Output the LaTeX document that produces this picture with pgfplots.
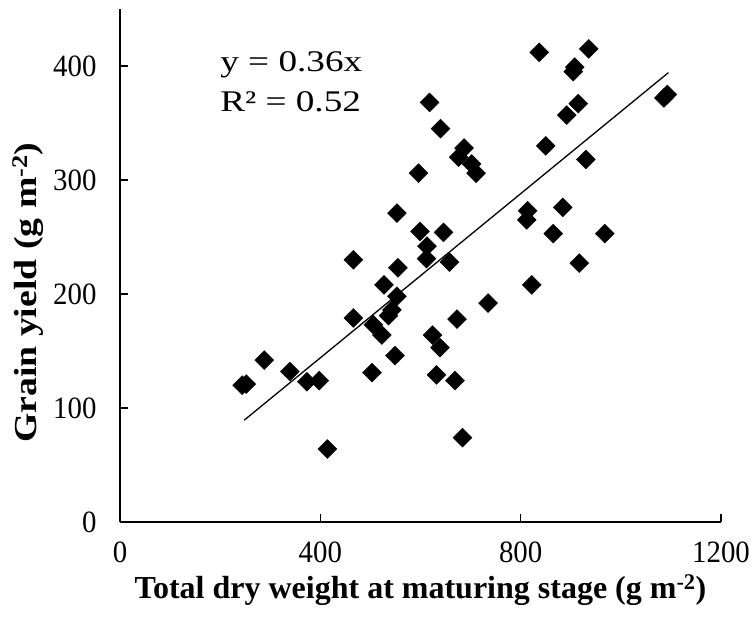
\documentclass[border=0pt]{standalone}
\usepackage{fontspec}
\setmainfont{Liberation Serif}
\newfontfamily\eqfont[FakeStretch=1.24]{Liberation Serif}
\newfontfamily\tickfont[FakeStretch=0.93]{Liberation Serif}
\newfontfamily\ylabfont[FakeStretch=1.18]{Liberation Serif}
\usepackage{pgfplots}
\pgfplotsset{compat=1.18}
\pgfplotstableread{
x y
244 120
252 121
288 142
339 132
373 123
398 124
414 64
466 230
466 179
503 131
506 173
523 164
527 208
549 146
553 198
543 186
536 181
555 223
553 271
596 306
599 255
613 242
612 231
618 368
640 345
687 328
676 320
702 314
711 306
646 254
658 228
837 412
936 415
908 399
905 395
1086 372
1093 375
915 367
892 357
850 330
930 318
814 273
812 265
884 276
865 253
968 253
917 227
822 208
735 192
673 178
624 164
639 153
632 129
669 124
684 74
}\pts
\begin{document}
\begin{tikzpicture}
\begin{axis}[
  name=ax,
  scale only axis, width=601bp, height=513bp,
  xmin=0, xmax=1200, ymin=0, ymax=450,
  axis lines*=left,
  axis line style={line width=1.3bp, black},
  xtick={0,400,800,1200}, ytick={0,100,200,300,400},
  tick align=inside, major tick length=8bp,
  tick style={line width=1.3bp, black},
  /pgf/number format/assume math mode=true,
  /pgf/number format/1000 sep={},
  ticklabel style={font=\tickfont\fontsize{31bp}{36bp}\selectfont},
  xticklabel style={yshift=-16bp},
  yticklabel style={xshift=-20bp},
  xlabel={\textbf{Total dry weight at maturing stage (g m\textsuperscript{-2})}},
  ylabel={\textbf{Grain yield (g m\textsuperscript{-2})}},
  xlabel style={at={(axis description cs:0.5,-0.132)}, anchor=center, font=\fontsize{32bp}{38bp}\selectfont},
  ylabel style={at={(axis description cs:-0.153,0.447)}, anchor=center, font=\ylabfont\fontsize{32bp}{38bp}\selectfont},
  clip=false,
]
\addplot[only marks, mark=square*, mark size=6.7bp, mark options={rotate=45, fill=black, draw=black}] table[x=x, y=y] {\pts};
\addplot[black, line width=1.3bp] coordinates {(248,89.3) (1095,394.2)};
\node[anchor=base west, font=\eqfont\fontsize{30bp}{36bp}\selectfont, inner sep=0pt] at (axis cs:200,395) {y = 0.36x};
\node[anchor=base west, font=\eqfont\fontsize{30bp}{36bp}\selectfont, inner sep=0pt] at (axis cs:200,360) {R² = 0.52};
\end{axis}
\pgfresetboundingbox
\path[use as bounding box] ([shift={(-120bp,-99bp)}]ax.south west) rectangle ([shift={(31bp,9bp)}]ax.north east);
\end{tikzpicture}
\end{document}
